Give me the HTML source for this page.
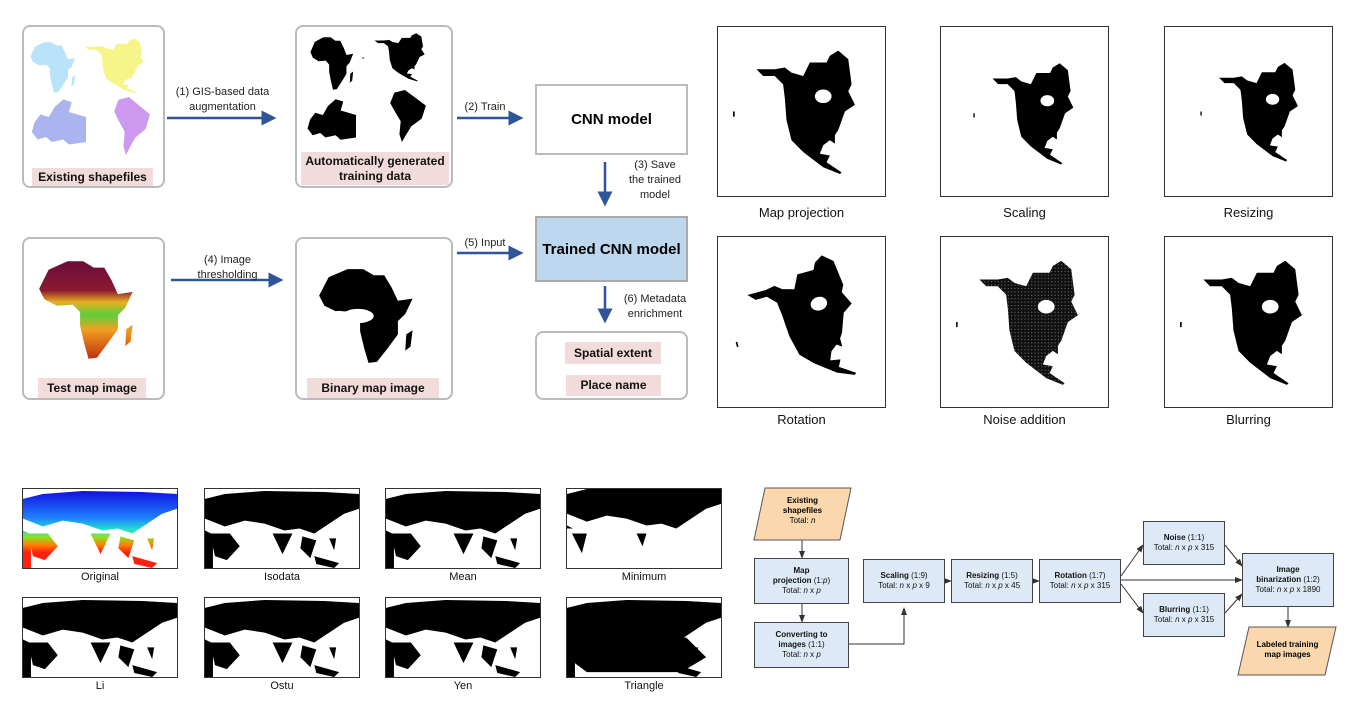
<!DOCTYPE html>
<html><head><meta charset="utf-8"><style>
body{margin:0;width:1350px;height:720px;background:#fff;position:relative;font-family:"Liberation Sans",sans-serif;overflow:hidden}
.a{position:absolute}
.rb{position:absolute;border:2px solid #bbb;border-radius:8px;box-sizing:border-box;background:#fff}
.pk{position:absolute;background:#f2dcdb;font-weight:bold;font-size:12px;text-align:center;color:#111;line-height:15px}
.lab{position:absolute;font-size:11px;text-align:center;color:#222;line-height:15px}
.img{position:absolute;border:1px solid #333;box-sizing:border-box;background:#fff}
.cap{position:absolute;font-size:13px;text-align:center;color:#111}
.cap2{position:absolute;font-size:11px;text-align:center;color:#111}
.fb{position:absolute;background:#dde9f6;border:1px solid #444;box-sizing:border-box;font-size:8px;text-align:center;display:flex;flex-direction:column;justify-content:center;line-height:10px;color:#111}
.fb b{font-weight:bold}
</style></head><body>
<svg width="0" height="0" style="position:absolute"><defs>
<path id="af" d="M12,12 L30,4 L45,4 L55,10 L65,10 L72,22 L78,35 L92,33 L85,48 L78,55 L78,68 L68,82 L58,95 L50,96 L46,82 L42,65 L42,52 L35,45 L20,46 L8,40 L3,30 Z M86,68 L92,64 L90,80 L85,84 Z"/>
<path id="na" d="M23,25 L34,25 L40,24 L44,27 L51,29 L55,21 L65,21 L67,17 L72,14 L78,19 L80,34 L78,38 L82,46 L76,50 L72,61 L70,64 L70,69 L67,67 L63,70 L61,75 L67,76 L65,80 L74,86 L73,87 L63,83 L55,77 L51,74 L44,67 L41,55 L40,42 L39,34 L34,29 L27,29 Z M9,50 L10,50 L10,53 L9,53 Z"/>
<path id="sa" d="M20,5 L45,0 L70,15 L95,30 L85,55 L60,70 L45,90 L38,100 L32,85 L35,60 L20,40 L10,25 Z"/>
<path id="eu" d="M10,50 L20,35 L35,40 L45,20 L60,5 L75,10 L70,30 L85,35 L100,40 L100,90 L70,95 L60,85 L40,90 L30,80 L15,85 L5,70 Z"/>
<path id="ea" d="M0,10 L20,5 L60,2 L120,3 L155,5 L155,20 L140,25 L125,35 L110,45 L95,40 L80,42 L60,35 L40,32 L20,38 L0,30 Z M5,45 L25,45 L35,58 L22,72 L10,68 Z M68,45 L88,45 L78,66 Z M98,48 L112,52 L106,70 L96,60 Z M110,68 L135,75 L130,80 L112,76 Z M0,42 L8,46 L8,80 L0,80 Z M125,50 L132,50 L130,62 Z"/>
<pattern id="nz" width="2" height="2" patternUnits="userSpaceOnUse"><rect width="2" height="2" fill="#111"/><rect width="0.6" height="0.6" fill="#777"/></pattern>
<linearGradient id="tg" x1="0" y1="0" x2="0" y2="1"><stop offset="0" stop-color="#6b0c3b"/><stop offset="0.3" stop-color="#8a1a30"/><stop offset="0.42" stop-color="#e8b020"/><stop offset="0.55" stop-color="#5ccf3a"/><stop offset="0.7" stop-color="#f0a020"/><stop offset="1" stop-color="#c03010"/></linearGradient>
<linearGradient id="eg" x1="0" y1="0" x2="0" y2="1"><stop offset="0" stop-color="#1010e0"/><stop offset="0.35" stop-color="#2080ff"/><stop offset="0.5" stop-color="#20e0d0"/><stop offset="0.6" stop-color="#90e020"/><stop offset="0.7" stop-color="#ff8000"/><stop offset="0.8" stop-color="#ff2010"/><stop offset="1" stop-color="#ff2010"/></linearGradient>
<marker id="ab" markerWidth="6" markerHeight="6" refX="5" refY="3" orient="auto" markerUnits="strokeWidth"><path d="M0,0 L6,3 L0,6 Z" fill="#2f5597"/></marker>
<marker id="ak" markerWidth="8" markerHeight="8" refX="7" refY="4" orient="auto" markerUnits="userSpaceOnUse"><path d="M0,1 L8,4 L0,7 Z" fill="#333"/></marker>
</defs></svg>

<div class="rb" style="left:22px;top:25px;width:143px;height:163px"></div>
<div class="rb" style="left:295px;top:25px;width:158px;height:163px"></div>
<div class="rb" style="left:22px;top:237px;width:143px;height:163px"></div>
<div class="rb" style="left:295px;top:237px;width:158px;height:163px"></div>
<div class="a" style="left:535px;top:84px;width:153px;height:71px;border:2px solid #bbb;box-sizing:border-box;font-weight:bold;font-size:15px;display:flex;align-items:center;justify-content:center">CNN model</div>
<div class="a" style="left:535px;top:216px;width:153px;height:66px;border:2px solid #aaa;background:#bdd7ee;box-sizing:border-box;font-weight:bold;font-size:15px;display:flex;align-items:center;justify-content:center">Trained CNN model</div>
<div class="rb" style="left:535px;top:331px;width:153px;height:69px"></div>

<svg class="a" style="left:0;top:0" width="1350" height="720">
<svg x="29" y="40" width="50" height="55" viewBox="0 0 100 100" preserveAspectRatio="none"><use href="#af" fill="#b9e3f8"/></svg>
<svg x="62" y="28" width="100" height="75" viewBox="0 0 100 100" preserveAspectRatio="none"><use href="#na" fill="#f5f58a"/></svg>
<svg x="29" y="97" width="57" height="50" viewBox="0 0 100 100" preserveAspectRatio="none"><use href="#eu" fill="#aab4ee"/></svg>
<svg x="110" y="97" width="42" height="58" viewBox="0 0 100 100" preserveAspectRatio="none"><use href="#sa" fill="#cc99ee"/></svg>
<svg x="309" y="35" width="48" height="57" viewBox="0 0 100 100" preserveAspectRatio="none"><use href="#af"/></svg>
<svg x="355" y="24" width="85" height="66" viewBox="0 0 100 100" preserveAspectRatio="none"><use href="#na"/></svg>
<svg x="305" y="97" width="51" height="45" viewBox="0 0 100 100" preserveAspectRatio="none"><use href="#eu"/></svg>
<svg x="386" y="90" width="42" height="52" viewBox="0 0 100 100" preserveAspectRatio="none"><use href="#sa"/></svg>
<svg x="36" y="257" width="105" height="106" viewBox="0 0 100 100" preserveAspectRatio="none"><use href="#af" fill="url(#tg)"/></svg>
<svg x="316" y="265" width="105" height="102" viewBox="0 0 100 100" preserveAspectRatio="none"><use href="#af"/><ellipse cx="40" cy="50" rx="15" ry="7" fill="#fff"/><ellipse cx="22" cy="48" rx="8" ry="3" fill="#fff"/></svg>
<g stroke="#2f5597" stroke-width="2.5" fill="none" marker-end="url(#ab)">
<line x1="167" y1="118" x2="274" y2="118"/><line x1="457" y1="118" x2="521" y2="118"/>
<line x1="605" y1="162" x2="605" y2="204"/><line x1="457" y1="253" x2="521" y2="253"/>
<line x1="605" y1="286" x2="605" y2="321"/><line x1="171" y1="280" x2="281" y2="280"/>
</g>
<g stroke="#333" stroke-width="1" fill="none" marker-end="url(#ak)">
<line x1="802" y1="540" x2="802" y2="558"/>
<line x1="802" y1="604" x2="802" y2="622"/>
<polyline points="849,644 904,644 904,608"/>
<line x1="945" y1="581" x2="951" y2="581"/>
<line x1="1033" y1="581" x2="1039" y2="581"/>
<line x1="1121" y1="576" x2="1143" y2="545"/>
<line x1="1121" y1="584" x2="1143" y2="613"/>
<line x1="1121" y1="580" x2="1242" y2="580"/>
<line x1="1225" y1="545" x2="1242" y2="566"/>
<line x1="1225" y1="613" x2="1242" y2="594"/>
<line x1="1288" y1="607" x2="1288" y2="627"/>
</g>
<polygon points="765,488 851,488 840,540 754,540" fill="#fad7ac" stroke="#555"/>
<polygon points="1249,627 1336,627 1325,675 1238,675" fill="#fad7ac" stroke="#555"/>
</svg>

<div class="pk" style="left:32px;top:168px;width:121px;height:18px;line-height:18px">Existing shapefiles</div>
<div class="pk" style="left:301px;top:152px;width:148px;height:33px;padding-top:2px;box-sizing:border-box">Automatically generated training data</div>
<div class="pk" style="left:38px;top:378px;width:108px;height:20px;line-height:20px">Test map image</div>
<div class="pk" style="left:307px;top:378px;width:132px;height:20px;line-height:20px">Binary map image</div>
<div class="pk" style="left:565px;top:342px;width:96px;height:22px;line-height:22px">Spatial extent</div>
<div class="pk" style="left:566px;top:375px;width:95px;height:21px;line-height:21px">Place name</div>
<div class="lab" style="left:160px;top:85px;width:125px">(1) GIS-based data<br>augmentation</div>
<div class="lab" style="left:455px;top:100px;width:60px">(2) Train</div>
<div class="lab" style="left:615px;top:158px;width:80px">(3) Save<br>the trained<br>model</div>
<div class="lab" style="left:455px;top:236px;width:60px">(5) Input</div>
<div class="lab" style="left:615px;top:292px;width:80px">(6) Metadata<br>enrichment</div>
<div class="lab" style="left:175px;top:253px;width:105px">(4) Image<br>thresholding</div>

<div class="img" style="left:717px;top:26px;width:169px;height:171px"><svg width="167" height="169" viewBox="0 0 100 100" preserveAspectRatio="none"><use href="#na"/><ellipse cx="63" cy="41" rx="5" ry="4" fill="#fff"/></svg></div>
<div class="img" style="left:940px;top:26px;width:169px;height:171px"><svg width="167" height="169" viewBox="0 0 100 100" preserveAspectRatio="none"><g transform="translate(12,10) scale(0.82)"><use href="#na"/><ellipse cx="63" cy="41" rx="5" ry="4" fill="#fff"/></g></svg></div>
<div class="img" style="left:1164px;top:26px;width:169px;height:171px"><svg width="167" height="169" viewBox="0 0 100 100" preserveAspectRatio="none"><g transform="translate(14,10) scale(0.8)"><use href="#na"/><ellipse cx="63" cy="41" rx="5" ry="4" fill="#fff"/></g></svg></div>
<div class="img" style="left:717px;top:236px;width:169px;height:172px"><svg width="167" height="170" viewBox="0 0 100 100" preserveAspectRatio="none"><g transform="rotate(-15 55 50)"><use href="#na"/><ellipse cx="63" cy="41" rx="5" ry="4" fill="#fff"/></g></svg></div>
<div class="img" style="left:940px;top:236px;width:169px;height:172px"><svg width="167" height="170" viewBox="0 0 100 100" preserveAspectRatio="none"><use href="#na" fill="url(#nz)"/><ellipse cx="63" cy="41" rx="5" ry="4" fill="#fff"/></svg></div>
<div class="img" style="left:1164px;top:236px;width:169px;height:172px"><svg width="167" height="170" viewBox="0 0 100 100" preserveAspectRatio="none"><use href="#na"/><ellipse cx="63" cy="41" rx="5" ry="4" fill="#fff"/></svg></div>
<div class="cap" style="left:717px;top:205px;width:169px">Map projection</div>
<div class="cap" style="left:940px;top:205px;width:169px">Scaling</div>
<div class="cap" style="left:1164px;top:205px;width:169px">Resizing</div>
<div class="cap" style="left:717px;top:412px;width:169px">Rotation</div>
<div class="cap" style="left:940px;top:412px;width:169px">Noise addition</div>
<div class="cap" style="left:1164px;top:412px;width:169px">Blurring</div>

<div class="img" style="left:22px;top:488px;width:156px;height:81px"><svg width="154" height="79" viewBox="0 0 155 80" preserveAspectRatio="none"><use href="#ea" fill="url(#eg)"/></svg></div>
<div class="img" style="left:204px;top:488px;width:156px;height:81px"><svg width="154" height="79" viewBox="0 0 155 80" preserveAspectRatio="none"><use href="#ea"/></svg></div>
<div class="img" style="left:385px;top:488px;width:156px;height:81px"><svg width="154" height="79" viewBox="0 0 155 80" preserveAspectRatio="none"><use href="#ea"/></svg></div>
<div class="img" style="left:566px;top:488px;width:156px;height:81px"><svg width="154" height="79" viewBox="0 0 155 80" preserveAspectRatio="none"><g transform="translate(0,-5)"><use href="#ea"/></g><rect y="40" width="155" height="40" fill="#fff"/><path d="M5,45 L20,45 L15,65 Z M70,45 L80,45 L76,58 Z" fill="#000"/></svg></div>
<div class="img" style="left:22px;top:597px;width:156px;height:81px"><svg width="154" height="79" viewBox="0 0 155 80" preserveAspectRatio="none"><use href="#ea"/></svg></div>
<div class="img" style="left:204px;top:597px;width:156px;height:81px"><svg width="154" height="79" viewBox="0 0 155 80" preserveAspectRatio="none"><use href="#ea"/></svg></div>
<div class="img" style="left:385px;top:597px;width:156px;height:81px"><svg width="154" height="79" viewBox="0 0 155 80" preserveAspectRatio="none"><use href="#ea"/></svg></div>
<div class="img" style="left:566px;top:597px;width:156px;height:81px"><svg width="154" height="79" viewBox="0 0 155 80" preserveAspectRatio="none"><use href="#ea"/><path d="M0,25 L80,38 L120,40 L140,60 L115,75 L20,75 L0,60 Z"/></svg></div>
<div class="cap2" style="left:22px;top:571px;width:156px">Original</div>
<div class="cap2" style="left:204px;top:571px;width:156px">Isodata</div>
<div class="cap2" style="left:385px;top:571px;width:156px">Mean</div>
<div class="cap2" style="left:566px;top:571px;width:156px">Minimum</div>
<div class="cap2" style="left:22px;top:680px;width:156px">Li</div>
<div class="cap2" style="left:204px;top:680px;width:156px">Ostu</div>
<div class="cap2" style="left:385px;top:680px;width:156px">Yen</div>
<div class="cap2" style="left:566px;top:680px;width:156px">Triangle</div>

<div class="a" style="left:760px;top:496px;width:85px;font-size:8px;text-align:center;line-height:10px"><b>Existing<br>shapefiles</b><br>Total: <i>n</i></div>
<div class="fb" style="left:754px;top:558px;width:95px;height:46px"><b>Map</b><span><b>projection</b> (1:<i>p</i>)</span><span>Total: <i>n</i> x <i>p</i></span></div>
<div class="fb" style="left:754px;top:622px;width:95px;height:46px"><b>Converting to</b><span><b>images</b> (1:1)</span><span>Total: <i>n</i> x <i>p</i></span></div>
<div class="fb" style="left:863px;top:559px;width:82px;height:44px"><span><b>Scaling</b> (1:9)</span><span>Total: <i>n</i> x <i>p</i> x 9</span></div>
<div class="fb" style="left:951px;top:559px;width:82px;height:44px"><span><b>Resizing</b> (1:5)</span><span>Total: <i>n</i> x <i>p</i> x 45</span></div>
<div class="fb" style="left:1039px;top:559px;width:82px;height:44px"><span><b>Rotation</b> (1:7)</span><span>Total: <i>n</i> x <i>p</i> x 315</span></div>
<div class="fb" style="left:1143px;top:521px;width:82px;height:44px"><span><b>Noise</b> (1:1)</span><span>Total: <i>n</i> x <i>p</i> x 315</span></div>
<div class="fb" style="left:1143px;top:593px;width:82px;height:44px"><span><b>Blurring</b> (1:1)</span><span>Total: <i>n</i> x <i>p</i> x 315</span></div>
<div class="fb" style="left:1242px;top:553px;width:92px;height:54px"><b>Image</b><span><b>binarization</b> (1:2)</span><span>Total: <i>n</i> x <i>p</i> x 1890</span></div>
<div class="a" style="left:1245px;top:640px;width:85px;font-size:8px;text-align:center;line-height:10px;font-weight:bold">Labeled training<br>map images</div>
</body></html>
